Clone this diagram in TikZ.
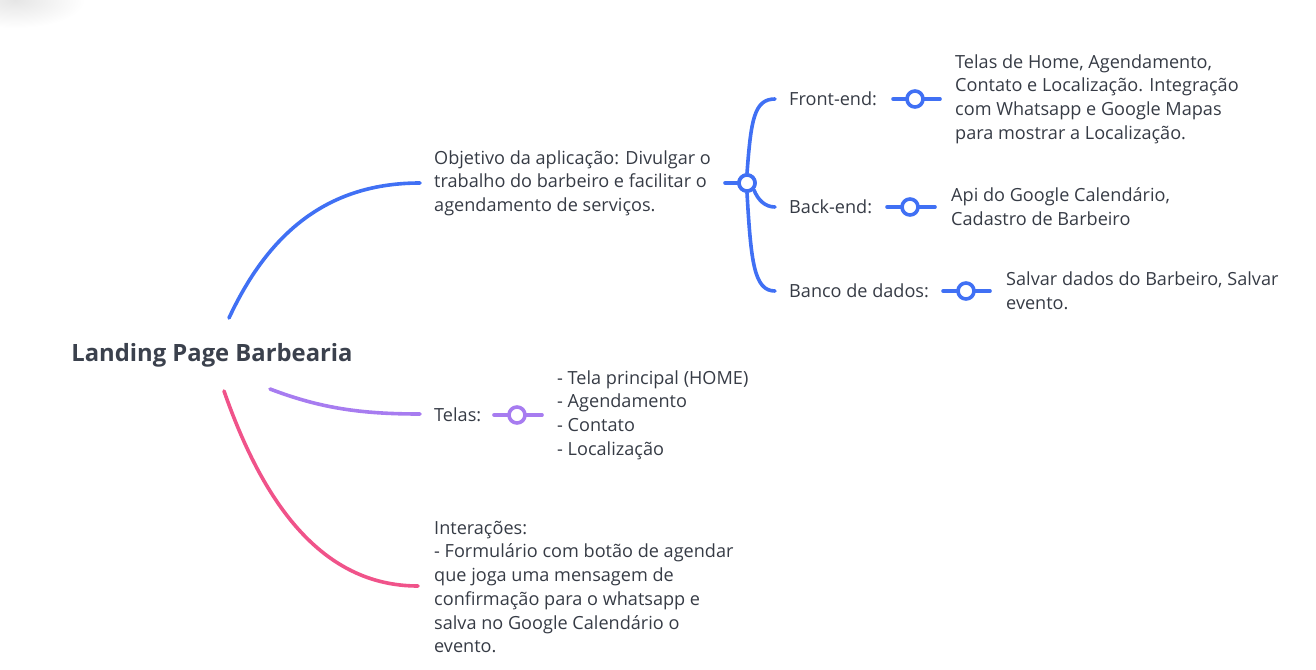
\documentclass[tikz,border=0pt]{standalone}
\usepackage{fontspec}
\setmainfont{Open Sans}
\definecolor{cblue}{HTML}{4070F4}
\definecolor{cpurple}{HTML}{A77CF0}
\definecolor{cpink}{HTML}{F0538A}
\definecolor{ctext}{HTML}{363B45}
\definecolor{croot}{HTML}{3B414D}
\begin{document}
\begin{tikzpicture}[x=1pt,y=-1pt,
  txt/.style={anchor=west,inner sep=0pt,align=left,text=ctext,font=\fontsize{18.1}{23.7}\selectfont},
  rootstyle/.style={inner sep=0pt,text=croot,font=\fontsize{23.8}{28}\selectfont\bfseries},
  link/.style={line width=3.6pt,line cap=round},
  dot/.style={circle,draw,line width=3.6pt,fill=white,minimum size=16pt,inner sep=0pt}]
\useasboundingbox (0,0) rectangle (1316,669);
\shade[inner color=black!10,outer color=white] (15,0) ellipse (70 and 28);

% root
\node[rootstyle] (root) at (212,355) {Landing Page Barbearia};
\coordinate (rb) at (229,318);
\coordinate (rp) at (270,389);
\coordinate (rk) at (224,391);

% blue branch
\node[txt] (obj) at (434,183) {Objetivo da aplicação: Divulgar o\\trabalho do barbeiro e facilitar o\\agendamento de serviços.};
\coordinate (objin) at (420,183);
\coordinate (objout) at (725,183);
\node[dot,draw=cblue] (c0) at (747,183) {};
\draw[link,cblue] (rb) .. controls (270,230) and (330,183) .. (objin);
\draw[link,cblue] (objout) -- (c0);

\node[txt] (fe) at (789,99) {Front-end:};
\node[txt] (be) at (789,207) {Back-end:};
\node[txt] (bd) at (789,291) {Banco de dados:};
\coordinate (fein) at (775,99);
\coordinate (bein) at (775,207);
\coordinate (bdin) at (775,291);
\draw[link,cblue] (c0.north) .. controls (751,120) and (754,99) .. (fein);
\draw[link,cblue] (c0.south east) .. controls (758,200) and (765,207) .. (bein);
\draw[link,cblue] (c0.south) .. controls (751,262) and (754,291) .. (bdin);
\node[dot,draw=cblue] (c0b) at (747,183) {};

% front-end leaf
\coordinate (fea) at (893,99);
\coordinate (feb) at (940,99);
\draw[link,cblue] (fea) -- (feb);
\node[dot,draw=cblue] (c1) at (915,99) {};
\node[txt] (fet) at (955,99) {Telas de Home, Agendamento,\\Contato e Localização. Integração\\com Whatsapp e Google Mapas\\para mostrar a Localização.};

% back-end leaf
\coordinate (bea) at (887,207);
\coordinate (beb) at (935,207);
\draw[link,cblue] (bea) -- (beb);
\node[dot,draw=cblue] (c2) at (910,207) {};
\node[txt] (bet) at (951,207) {Api do Google Calendário,\\Cadastro de Barbeiro};

% banco leaf
\coordinate (bda) at (943,291);
\coordinate (bdb) at (990,291);
\draw[link,cblue] (bda) -- (bdb);
\node[dot,draw=cblue] (c3) at (966,291) {};
\node[txt] (bdt) at (1006,291) {Salvar dados do Barbeiro, Salvar\\evento.};

% purple branch
\node[txt] (tel) at (434,415) {Telas:};
\coordinate (telin) at (420,414);
\draw[link,cpurple] (rp) .. controls (320,408) and (360,414) .. (telin);
\coordinate (tla) at (494,415);
\coordinate (tlb) at (542,415);
\draw[link,cpurple] (tla) -- (tlb);
\node[dot,draw=cpurple] (c4) at (517,415) {};
\node[txt] (telt) at (557,415) {- Tela principal (HOME)\\- Agendamento\\- Contato\\- Localização};

% pink branch
\node[txt] (int) at (434,587) {Interações:\\- Formulário com botão de agendar\\que joga uma mensagem de\\confirmação para o whatsapp e\\salva no Google Calendário o\\evento.};
\coordinate (intin) at (418,586);
\draw[link,cpink] (rk) .. controls (262,500) and (320,586) .. (intin);
\end{tikzpicture}
\end{document}
